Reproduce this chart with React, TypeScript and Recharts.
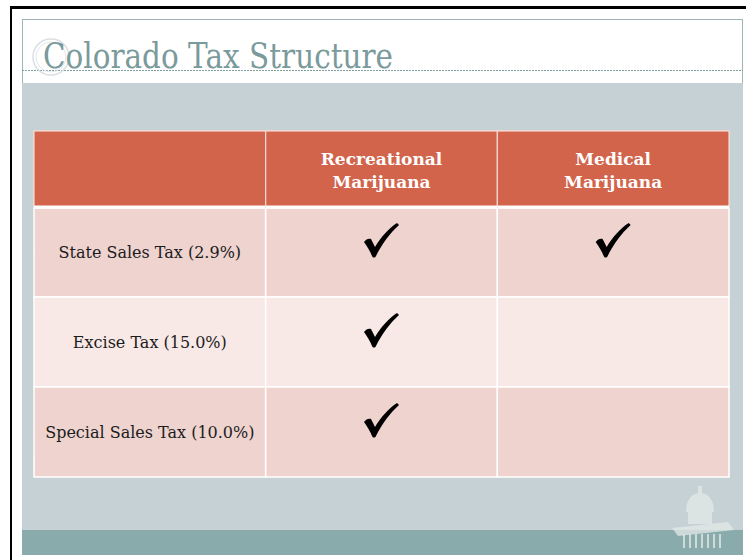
import React from 'react';
import { ComposedChart, XAxis, YAxis, Scatter, ReferenceArea } from 'recharts';

// table content
const columns = ['Tax', 'Recreational Marijuana', 'Medical Marijuana'];
const taxes = ['State Sales Tax (2.9%)', 'Excise Tax (15.0%)', 'Special Sales Tax (10.0%)'];
const recreational = [true, true, true];
const medical = [true, false, false];
const rowFills = ['#efd3cf', '#f8e8e6', '#efd3cf'];

const W = 746;
const H = 560;
const TABLE = { left: 34, right: 729, top: 131, head: 207, bottom: 477 };
const COL_W = (TABLE.right - TABLE.left) / columns.length;
const SERIF = '"DejaVu Serif", Georgia, serif';

const cells = taxes.flatMap((row, i) =>
  columns.map((col, j) => ({
    row,
    col,
    checked: j === 1 ? recreational[i] : j === 2 ? medical[i] : false,
  }))
);

const HeaderTick = (props: any) => {
  const { x, payload } = props;
  // first column has an empty header cell
  const lines = payload.value === columns[0] ? [] : String(payload.value).split(' ');
  return (
    <g>
      <rect
        x={x - COL_W / 2}
        y={TABLE.top}
        width={COL_W}
        height={TABLE.head - TABLE.top}
        fill="#d1644b"
        stroke="#f4d9d2"
        strokeWidth={1.2}
      />
      <line x1={x - COL_W / 2} x2={x + COL_W / 2} y1={TABLE.head} y2={TABLE.head} stroke="#fff" strokeWidth={3} />
      {lines.map((t, k) => (
        <text
          key={k}
          x={x}
          y={TABLE.top + 34 + k * 23}
          textAnchor="middle"
          fill="#fff"
          fontFamily={SERIF}
          fontWeight="bold"
          fontSize={17}
        >
          {t}
        </text>
      ))}
    </g>
  );
};

const CellMark = (props: any) => {
  const { cx, cy, payload } = props;
  if (payload.col === columns[0]) {
    return (
      <text x={cx} y={cy + 6} textAnchor="middle" fontFamily={SERIF} fontSize={16} fill="#1c1c1c">
        {payload.row}
      </text>
    );
  }
  if (!payload.checked) return <g />;
  return (
    <path
      transform={`translate(${cx - 17.5},${cy - 29})`}
      d="M0,19 C2,16 5,15 7,16 L11,24 C17,14 25,5 33,0 L35,2 C26,10 18,21 12,33 C11,35 9,35 8,33 C6,28 3,23 0,19 Z"
      fill="#000"
    />
  );
};

const Background = () => (
  <svg width={W} height={H} style={{ position: 'absolute', left: 0, top: 0 }}>
    <rect x={0} y={0} width={W} height={H} fill="#fff" />
    <rect x={10} y={6} width={736} height={3} fill="#000" />
    <rect x={10} y={6} width={2} height={554} fill="#000" />
    <rect x={22.5} y={19.5} width={720} height={535} fill="#fff" stroke="#9fb4b4" strokeWidth={1} />
    <rect x={22} y={83} width={721} height={447} fill="#c6d1d6" />
    <rect x={22} y={530} width={721} height={25} fill="#8aabab" />
    <line x1={22} x2={743} y1={70.5} y2={70.5} stroke="#7f9f9f" strokeDasharray="2 1" />
    <circle cx={51} cy={57} r={18} fill="none" stroke="#d9dfe2" strokeWidth={1.5} />
    <circle cx={51} cy={57} r={15} fill="none" stroke="#e3e7ea" strokeWidth={1} />
    <text x={43} y={68} fontFamily={SERIF} fontSize={36} fill="#7a9a9b" textLength={350} lengthAdjust="spacingAndGlyphs">
      Colorado Tax Structure
    </text>
    {/* capitol silhouette */}
    <g fill="#e3e9e8" opacity={0.75}>
      <rect x={698} y={486} width={4} height={10} />
      <path d="M686,512 C686,498 693,493 700,493 C707,493 714,498 714,512 Z" />
      <rect x={688} y={512} width={24} height={12} />
      <path d="M672,528 L728,522 L734,530 L678,536 Z" />
    </g>
    <g stroke="#dfe7e6" strokeWidth={2} opacity={0.8}>
      {[684, 690, 696, 702, 708, 714, 720].map((x) => (
        <line key={x} x1={x} x2={x} y1={534} y2={548} />
      ))}
    </g>
  </svg>
);

export default function App() {
  return (
    <div style={{ position: 'absolute', left: 0, top: 0, width: W, height: H }}>
      <Background />
      <div style={{ position: 'absolute', left: 0, top: 0 }}>
        <ComposedChart
          width={W}
          height={H}
          margin={{ top: TABLE.top, left: TABLE.left, right: W - TABLE.right, bottom: H - TABLE.bottom }}
        >
          {taxes.map((row, i) =>
            columns.map((col) => (
              <ReferenceArea
                key={`${row}-${col}`}
                x1={col}
                x2={col}
                y1={row}
                y2={row}
                fill={rowFills[i]}
                fillOpacity={1}
                stroke="#fff"
                strokeWidth={1.5}
                ifOverflow="visible"
              />
            ))
          )}
          <XAxis
            type="category"
            dataKey="col"
            scale="band"
            orientation="top"
            height={TABLE.head - TABLE.top}
            allowDuplicatedCategory={false}
            interval={0}
            axisLine={false}
            tickLine={false}
            tick={HeaderTick}
          />
          <YAxis type="category" dataKey="row" scale="band" allowDuplicatedCategory={false} reversed hide />
          <Scatter data={cells} shape={CellMark} isAnimationActive={false} />
        </ComposedChart>
      </div>
    </div>
  );
}
